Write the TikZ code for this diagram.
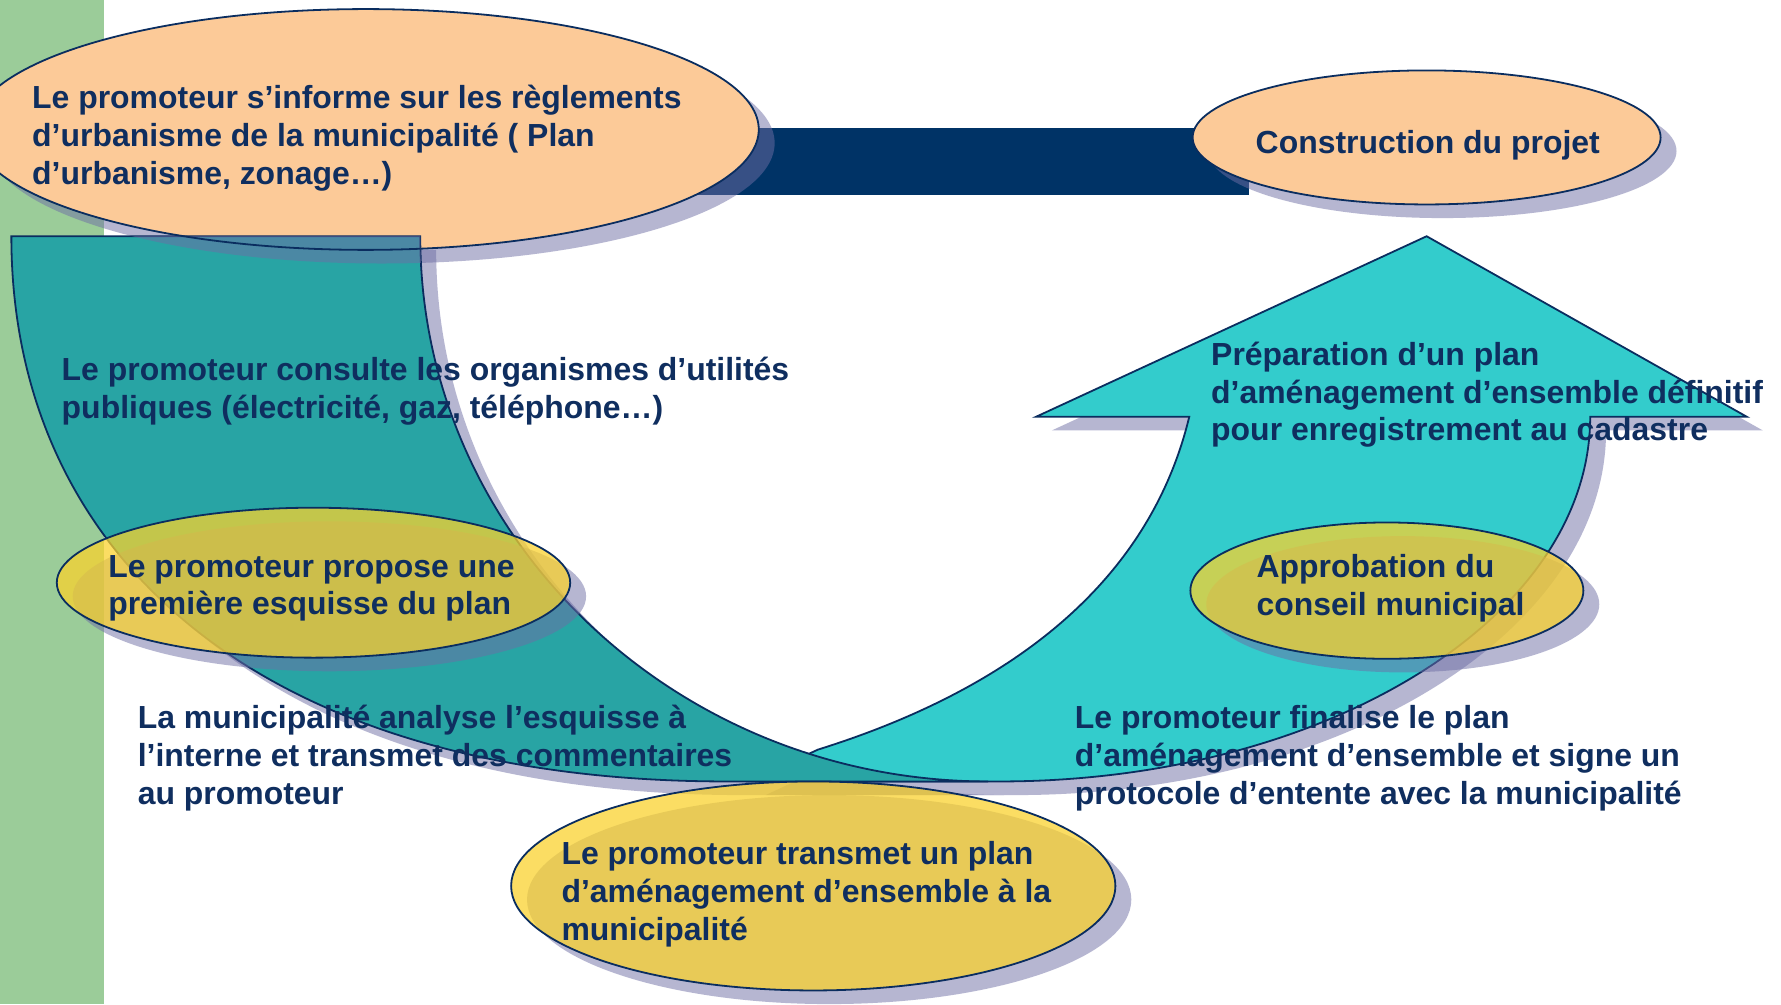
\documentclass[tikz,border=0pt]{standalone}
\usepackage{fontspec}
\setmainfont{Liberation Sans}
\usetikzlibrary{shadows}

\definecolor{vert}{RGB}{155,204,153}
\definecolor{marine}{RGB}{0,51,102}
\definecolor{trait}{RGB}{10,45,95}
\definecolor{titre}{RGB}{15,46,95}
\definecolor{peche}{RGB}{252,202,152}
\definecolor{sarcelle}{RGB}{40,164,164}
\definecolor{turquoise}{RGB}{51,204,204}
\definecolor{jaune}{RGB}{250,210,45}
\definecolor{ombre}{RGB}{110,110,165}

\newcommand\bande{(10,208) -- (370,208) .. controls (370,473) and (594,688) .. (870,688) -- (640,688) .. controls (230,688) and (10,490) .. (10,208) -- cycle}
\newcommand\fleche{(1047,367) -- (912,367) -- (1256,208) -- (1538,367) -- (1400,367) .. controls (1400,544) and (1167,688) .. (880,688) -- (660,688) -- (720,660) .. controls (880,610) and (1010,520) .. (1047,367) -- cycle}

\begin{document}
\begin{tikzpicture}[x=0.02cm, y=-0.02cm]
    \tikzset{bord/.style={draw=trait, line width=0.9pt},
             ombrage/.style={drop shadow={shadow xshift=0.28cm, shadow yshift=-0.24cm, fill=ombre, opacity=.5}},
             texte/.style={anchor=west, align=left, inner sep=0pt, text=titre, font=\fontsize{16}{19}\selectfont\bfseries}}
    \useasboundingbox (0,0) rectangle (1568,884);
    \fill[white] (0,0) rectangle (1568,884);
    \fill[vert] (0,0) rectangle (92,884);
    \fill[marine] (600,113) rectangle (1100,172);
    % bulles du haut
    \draw[bord, fill=peche, ombrage] (322,114) ellipse [x radius=346, y radius=106];
    \draw[bord, fill=peche, ombrage] (1256,121) ellipse [x radius=206, y radius=59];
    % fleches
    \fill[ombre, opacity=.5, xshift=0.28cm, yshift=-0.24cm] \bande;
    \draw[bord, fill=turquoise, ombrage] \fleche;
    \draw[bord, fill=sarcelle] \bande;
    \begin{scope}
        \clip \bande;
        \fill[ombre, opacity=.5] (322,114) ellipse [x radius=346, y radius=106] (336,126) ellipse [x radius=346, y radius=106];
        \draw[bord] (322,114) ellipse [x radius=346, y radius=106];
    \end{scope}
    % bulles jaunes
    \draw[bord, fill=jaune, fill opacity=.74, ombrage] (276,513) ellipse [x radius=226, y radius=66];
    \draw[bord, fill=jaune, fill opacity=.74, ombrage] (1221,520) ellipse [x radius=173, y radius=60];
    \draw[bord, fill=jaune, fill opacity=.74, ombrage] (716,780) ellipse [x radius=266, y radius=92];
    % textes
    \node[texte] (informe) at (28,121.5) {Le promoteur s’informe sur les règlements\\d’urbanisme de la municipalité ( Plan\\d’urbanisme, zonage…)};
    \node[texte, anchor=center] (construction) at (1257,128) {Construction du projet};
    \node[texte] (consulte) at (54,344) {Le promoteur consulte les organismes d’utilités\\publiques (électricité, gaz, téléphone…)};
    \node[texte] (preparation) at (1066,347.5) {Préparation d’un plan\\d’aménagement d’ensemble définitif\\pour enregistrement au cadastre};
    \node[texte] (propose) at (95,518) {Le promoteur propose une\\première esquisse du plan};
    \node[texte] (approbation) at (1106,518) {Approbation du\\conseil municipal};
    \node[texte] (analyse) at (121,667.5) {La municipalité analyse l’esquisse à\\l’interne et transmet des commentaires\\au promoteur};
    \node[texte] (finalise) at (946,667.5) {Le promoteur finalise le plan\\d’aménagement d’ensemble et signe un\\protocole d’entente avec la municipalité};
    \node[texte] (transmet) at (494,787.5) {Le promoteur transmet un plan\\d’aménagement d’ensemble à la\\municipalité};
\end{tikzpicture}
\end{document}
